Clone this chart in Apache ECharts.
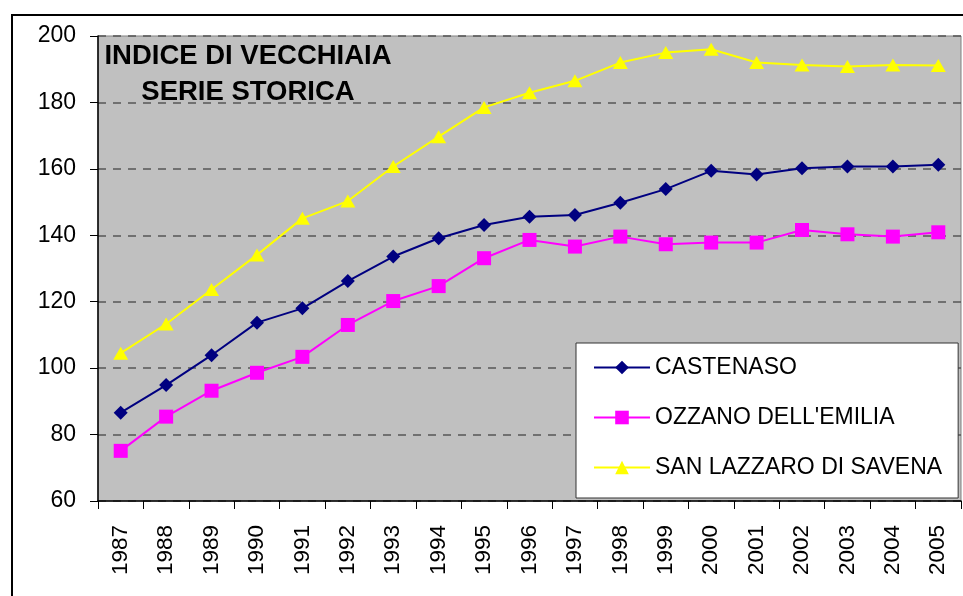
<!DOCTYPE html>
<html>
<head>
<meta charset="utf-8">
<script src="https://cdn.jsdelivr.net/npm/echarts@6/dist/echarts.min.js"></script>
<style>
html,body{margin:0;padding:0;background:#fff;}
#chart{width:963px;height:596px;}
</style>
</head>
<body>
<div id="chart"></div>
<script>
const years = ['1987','1988','1989','1990','1991','1992','1993','1994','1995','1996','1997','1998','1999','2000','2001','2002','2003','2004','2005'];
const castenaso = [86.6,94.9,103.9,113.7,118.0,126.2,133.6,139.1,143.1,145.6,146.1,149.8,153.9,159.4,158.3,160.2,160.7,160.7,161.2];
const ozzano = [75.1,85.4,93.2,98.6,103.4,113.0,120.2,124.7,133.1,138.6,136.6,139.6,137.3,137.8,137.8,141.6,140.3,139.6,140.9];
const sanLazzaro = [104.5,113.3,123.7,134.1,145.1,150.3,160.7,169.7,178.5,182.9,186.5,192.0,195.0,196.0,192.0,191.3,190.8,191.3,191.1];
const seriesNames = ['CASTENASO', "OZZANO DELL'EMILIA", 'SAN LAZZARO DI SAVENA'];
const titleLines = ['INDICE DI VECCHIAIA', 'SERIE STORICA'];

const FONT = '"Liberation Sans", Arial, sans-serif';
const chart = echarts.init(document.getElementById('chart'), null, {renderer: 'canvas'});
chart.setOption({
  animation: false,
  backgroundColor: '#ffffff',
  textStyle: {fontFamily: FONT},
  grid: {left: 98, top: 36, right: 2, bottom: 95, show: true, backgroundColor: '#C0C0C0', borderColor: '#808080', borderWidth: 1, containLabel: false},
  xAxis: {
    type: 'category', data: years, boundaryGap: true,
    axisLine: {show: true, lineStyle: {color: '#000', width: 1.5}},
    axisTick: {show: true, inside: false, length: 8, alignWithLabel: false, lineStyle: {color: '#000'}},
    axisLabel: {rotate: 90, margin: 24, color: '#000', fontSize: 22.5, fontFamily: FONT},
    splitLine: {show: false}
  },
  yAxis: {
    type: 'value', min: 60, max: 200, interval: 20,
    axisLine: {show: true, lineStyle: {color: '#000', width: 1.5}},
    axisTick: {show: true, length: 8, lineStyle: {color: '#000'}},
    axisLabel: {margin: 22, color: '#000', fontSize: 23, fontFamily: FONT},
    splitLine: {show: true, lineStyle: {color: '#555', type: [8, 7], width: 1.5}}
  },
  legend: {
    orient: 'vertical', left: 576, top: 343,
    backgroundColor: '#fff', borderColor: '#333', borderWidth: 1,
    padding: [13, 16, 19, 17],
    itemWidth: 56, itemHeight: 17, itemGap: 27,
    textStyle: {fontSize: 23, color: '#000', fontFamily: FONT, lineHeight: 22, padding: [0,0,0,0]},
    data: seriesNames
  },
  graphic: [
    {type: 'rect', shape: {x: 12, y: 15, width: 1000, height: 700}, style: {fill: 'none', stroke: '#000', lineWidth: 2}, z: 100, silent: true},
    {type: 'text', x: 248, y: 56, style: {text: titleLines[0], font: 'bold 27.5px ' + FONT, fill: '#000', textAlign: 'center', textVerticalAlign: 'middle'}, z: 100},
    {type: 'text', x: 248, y: 92, style: {text: titleLines[1], font: 'bold 27.5px ' + FONT, fill: '#000', textAlign: 'center', textVerticalAlign: 'middle'}, z: 100}
  ],
  series: [
    {name: seriesNames[0], type: 'line', data: castenaso, symbol: 'diamond', symbolSize: 14, showAllSymbol: true,
     lineStyle: {color: '#000080', width: 2}, itemStyle: {color: '#000080'}},
    {name: seriesNames[1], type: 'line', data: ozzano, symbol: 'rect', symbolSize: 14, showAllSymbol: true,
     lineStyle: {color: '#FF00FF', width: 2}, itemStyle: {color: '#FF00FF'}},
    {name: seriesNames[2], type: 'line', data: sanLazzaro, symbol: 'triangle', symbolSize: [15, 13], showAllSymbol: true,
     lineStyle: {color: '#FFFF00', width: 2}, itemStyle: {color: '#FFFF00'}}
  ]
});
</script>
</body>
</html>
